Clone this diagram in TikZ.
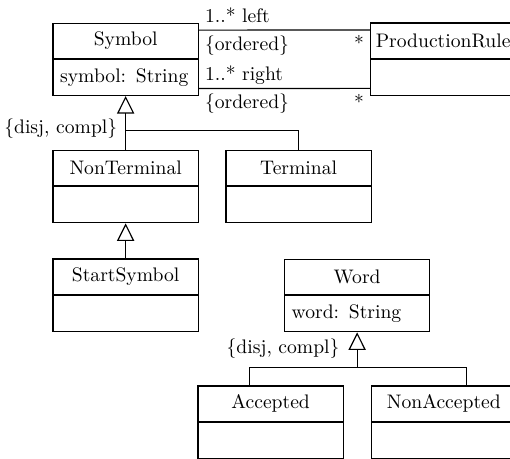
\documentclass[tikz,border=0pt]{standalone}
\usetikzlibrary{arrows.meta}
\begin{document}
\begin{tikzpicture}[x=0.51pt,y=-0.51pt, line width=0.6pt,
 cname/.style={draw, minimum width=74pt, minimum height=17.9pt, inner sep=0pt, anchor=north west},
 cattr/.style={draw, minimum width=74pt, minimum height=18.3pt, inner xsep=3.6pt, inner ysep=0pt, text width=66.8pt, align=left, anchor=north},
 lbl/.style={inner sep=0pt},
 gen/.style={-{Triangle[open, length=9pt, width=8.8pt]}}]
\useasboundingbox (0,0) rectangle (510,459);
% classes
\node[cname] (sym) at (52.5,22.7) {Symbol};
\node[cattr] (symA) at (sym.south) {symbol: String};
\node[cname] (pr) at (370,22.5) {ProductionRule};
\node[cattr] (prA) at (pr.south) {};
\node[cname] (nt) at (52.5,150) {NonTerminal};
\node[cattr] (ntA) at (nt.south) {};
\node[cname] (term) at (225.5,150) {Terminal};
\node[cattr] (termA) at (term.south) {};
\node[cname] (ss) at (52.5,258.5) {StartSymbol};
\node[cattr] (ssA) at (ss.south) {};
\node[cname] (word) at (284,259) {Word};
\node[cattr] (wordA) at (word.south) {word: String};
\node[cname] (acc) at (197.5,385.5) {Accepted};
\node[cattr] (accA) at (acc.south) {};
\node[cname] (nacc) at (370.7,385.5) {NonAccepted};
\node[cattr] (naccA) at (nacc.south) {};
% associations
\coordinate (a1) at ([yshift=-3.8pt]sym.north east);
\coordinate (b1) at ([yshift=-3.8pt]pr.north west);
\coordinate (a2) at ([yshift=3.8pt]symA.south east);
\coordinate (b2) at ([yshift=3.8pt]prA.south west);
\draw (a1) -- (b1);
\draw (a2) -- (b2);
\node[lbl, anchor=base west] (m1) at ([xshift=2.9pt, yshift=4.1pt]a1) {1..* left};
\node[lbl, anchor=north west] (o1) at ([xshift=2.9pt, yshift=-2.5pt]a1) {\{ordered\}};
\node[lbl, anchor=east] (s1) at ([xshift=-2.8pt, yshift=-5.2pt]b1) {$*$};
\node[lbl, anchor=base west] (m2) at ([xshift=2.9pt, yshift=4.1pt]a2) {1..* right};
\node[lbl, anchor=north west] (o2) at ([xshift=2.9pt, yshift=-2.5pt]a2) {\{ordered\}};
\node[lbl, anchor=east] (s2) at ([xshift=-2.8pt, yshift=-5.2pt]b2) {$*$};
% generalization 1
\draw[gen] (nt.north) -- (symA.south);
\coordinate (g1) at ([yshift=-17.5pt]symA.south);
\draw (term.north) |- (g1);
\node[lbl, anchor=east] (d1) at ([xshift=-4pt, yshift=1pt]g1) {\{disj, compl\}};
\draw[gen] (ss.north) -- (ntA.south);
% generalization 2
\coordinate (g2) at ([yshift=-17.8pt]wordA.south);
\draw[gen] (g2) -- (wordA.south);
\draw ([xshift=-10.6pt]acc.north) |- (g2) -| ([xshift=11.5pt]nacc.north);
\node[lbl, anchor=east] (d2) at ([xshift=-8.7pt, yshift=-8.2pt]wordA.south) {\{disj, compl\}};
\end{tikzpicture}
\end{document}
